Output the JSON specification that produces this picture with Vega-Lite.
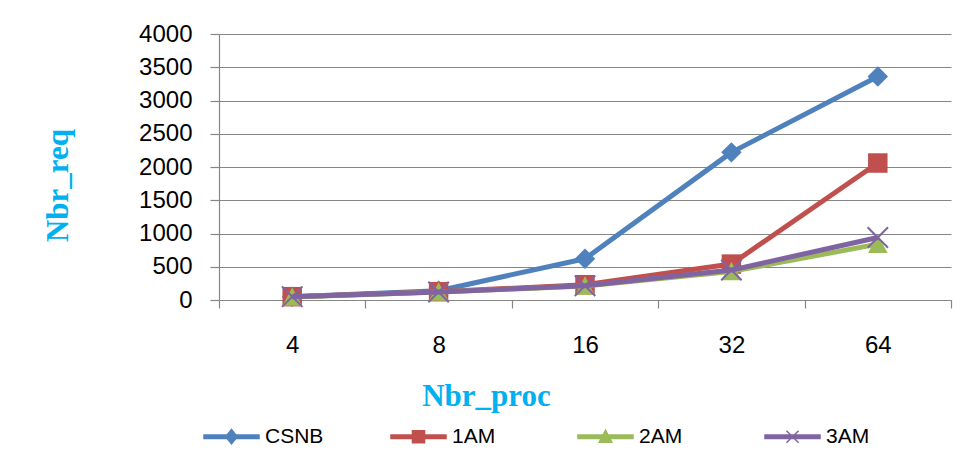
{
  "$schema": "https://vega.github.io/schema/vega-lite/v6.json",
  "width": 732,
  "height": 266,
  "autosize": "none",
  "padding": {"left": 219, "top": 34, "right": 28, "bottom": 162},
  "background": "white",
  "config": {"view": {"stroke": null}, "font": "Liberation Sans"},
  "data": {
    "values": [
      {"procs": 4, "series": "CSNB", "requests": 50},
      {"procs": 8, "series": "CSNB", "requests": 140},
      {"procs": 16, "series": "CSNB", "requests": 620},
      {"procs": 32, "series": "CSNB", "requests": 2220},
      {"procs": 64, "series": "CSNB", "requests": 3360},
      {"procs": 4, "series": "1AM", "requests": 50},
      {"procs": 8, "series": "1AM", "requests": 125},
      {"procs": 16, "series": "1AM", "requests": 230},
      {"procs": 32, "series": "1AM", "requests": 540},
      {"procs": 64, "series": "1AM", "requests": 2060},
      {"procs": 4, "series": "2AM", "requests": 45},
      {"procs": 8, "series": "2AM", "requests": 120},
      {"procs": 16, "series": "2AM", "requests": 210},
      {"procs": 32, "series": "2AM", "requests": 430},
      {"procs": 64, "series": "2AM", "requests": 840},
      {"procs": 4, "series": "3AM", "requests": 50},
      {"procs": 8, "series": "3AM", "requests": 120},
      {"procs": 16, "series": "3AM", "requests": 215},
      {"procs": 32, "series": "3AM", "requests": 450},
      {"procs": 64, "series": "3AM", "requests": 940}
    ]
  },
  "encoding": {
    "x": {
      "field": "procs",
      "type": "ordinal",
      "sort": [4, 8, 16, 32, 64],
      "scale": {"type": "band", "paddingInner": 0, "paddingOuter": 0},
      "axis": {
        "tickBand": "extent",
        "grid": false,
        "labelAngle": 0,
        "labelFontSize": 24,
        "labelColor": "black",
        "labelPadding": 25,
        "domainColor": "#868686",
        "domainWidth": 1.2,
        "tickColor": "#868686",
        "tickWidth": 1.2,
        "tickSize": 8,
        "title": "Nbr_proc",
        "titleFont": "Liberation Serif",
        "titleFontWeight": "bold",
        "titleFontSize": 31,
        "titleColor": "#00B0F0",
        "titleX": 267,
        "titleY": 105,
        "titleAlign": "center",
        "titleBaseline": "alphabetic"
      }
    },
    "y": {
      "field": "requests",
      "type": "quantitative",
      "scale": {"domain": [0, 4000]},
      "axis": {
        "values": [0, 500, 1000, 1500, 2000, 2500, 3000, 3500, 4000],
        "format": "d",
        "grid": true,
        "gridColor": "#868686",
        "gridWidth": 1.2,
        "domainColor": "#868686",
        "domainWidth": 1.2,
        "tickColor": "#868686",
        "tickWidth": 1.2,
        "tickSize": 9,
        "labelFontSize": 24,
        "labelColor": "black",
        "labelPadding": 18,
        "title": "Nbr_req",
        "titleFont": "Liberation Serif",
        "titleFontWeight": "bold",
        "titleFontSize": 31,
        "titleColor": "#00B0F0",
        "titleAngle": 270,
        "titleX": -161,
        "titleY": 151,
        "titleAlign": "center",
        "titleBaseline": "middle"
      }
    }
  },
  "layer": [
    {
      "mark": {"type": "point", "filled": true, "opacity": 1, "size": 0, "strokeWidth": 1.5},
      "encoding": {
        "color": {
          "field": "series",
          "type": "nominal",
          "scale": {"domain": ["CSNB", "1AM", "2AM", "3AM"], "range": ["#4F81BD", "#C0504D", "#9BBB59", "#8064A2"]},
          "legend": {
            "orient": "none",
            "legendX": -16,
            "legendY": 374,
            "direction": "horizontal",
            "columns": 4,
            "gridAlign": "all",
            "columnPadding": 64,
            "title": null,
            "padding": 0,
            "symbolSize": 3025,
            "symbolStrokeWidth": 1.5,
            "symbolOpacity": 1,
            "labelFont": "Liberation Sans",
            "labelFontSize": 21,
            "labelColor": "black",
            "labelOffset": 5
          }
        },
        "stroke": {
          "field": "series",
          "type": "nominal",
          "scale": {"domain": ["CSNB", "1AM", "2AM", "3AM"], "range": ["#4F81BD", "#C0504D", "#9BBB59", "#8064A2"]}
        },
        "shape": {
          "field": "series",
          "type": "nominal",
          "scale": {
            "domain": ["CSNB", "1AM", "2AM", "3AM"],
            "range": [
              "M-1,-0.064H-0.158L0,-0.26L0.158,-0.064H1V0.064H0.158L0,0.26L-0.158,0.064H-1Z",
              "M-1,-0.064H-0.22V-0.22H0.22V-0.064H1V0.064H0.22V0.22H-0.22V0.064H-1Z",
              "M-1,-0.064H-0.092L0,-0.24L0.092,-0.064H1V0.064H0.159L0.23,0.2H-0.23L-0.159,0.064H-1Z",
              "M-1,-0.064H1V0.064H-1Z M-0.22,-0.22L0.22,0.22 M-0.22,0.22L0.22,-0.22"
            ]
          }
        }
      }
    },
    {
      "transform": [{"filter": "datum.series === 'CSNB'"}],
      "mark": {"type": "line", "strokeWidth": 5, "strokeJoin": "round", "color": "#4F81BD"}
    },
    {
      "transform": [{"filter": "datum.series === 'CSNB'"}],
      "mark": {"type": "point", "shape": "M0,-1.05L1.05,0L0,1.05L-1.05,0Z", "filled": true, "color": "#4F81BD", "opacity": 1, "size": 380}
    },
    {
      "transform": [{"filter": "datum.series === '1AM'"}],
      "mark": {"type": "line", "strokeWidth": 5, "strokeJoin": "round", "color": "#C0504D"}
    },
    {
      "transform": [{"filter": "datum.series === '1AM'"}],
      "mark": {"type": "point", "shape": "M-1,-1H1V1H-1Z", "filled": true, "color": "#C0504D", "opacity": 1, "size": 380}
    },
    {
      "transform": [{"filter": "datum.series === '2AM'"}],
      "mark": {"type": "line", "strokeWidth": 5, "strokeJoin": "round", "color": "#9BBB59"}
    },
    {
      "transform": [{"filter": "datum.series === '2AM'"}],
      "mark": {"type": "point", "shape": "M0,-1L1,0.9L-1,0.9Z", "filled": true, "color": "#9BBB59", "opacity": 1, "size": 380}
    },
    {
      "transform": [{"filter": "datum.series === '3AM'"}],
      "mark": {"type": "line", "strokeWidth": 5, "strokeJoin": "round", "color": "#8064A2"}
    },
    {
      "transform": [{"filter": "datum.series === '3AM'"}],
      "mark": {"type": "point", "shape": "M-1.05,-1.05L1.05,1.05M-1.05,1.05L1.05,-1.05", "filled": false, "color": "#8064A2", "opacity": 1, "size": 380, "strokeWidth": 2}
    }
  ]
}
